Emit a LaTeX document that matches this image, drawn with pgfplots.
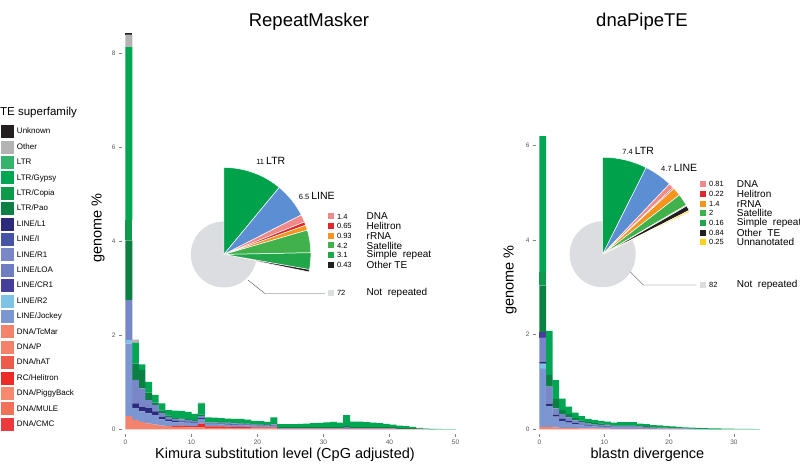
\documentclass[border=0pt]{standalone}
\usepackage{fontspec}
\setmainfont{Liberation Sans}
\usepackage{pgfplots}
\usepackage{pgfplotstable}
\pgfplotsset{compat=1.18}

\definecolor{cUnknown}{HTML}{231F20}
\definecolor{cOther}{HTML}{B3B3B3}
\definecolor{cLTR}{HTML}{35B26B}
\definecolor{cGypsy}{HTML}{00A651}
\definecolor{cCopia}{HTML}{0D9A4A}
\definecolor{cPao}{HTML}{0B8043}
\definecolor{cL1}{HTML}{2B2A7B}
\definecolor{cI}{HTML}{4754A6}
\definecolor{cR1}{HTML}{7986C7}
\definecolor{cLOA}{HTML}{6E7DC2}
\definecolor{cCR1}{HTML}{453F9C}
\definecolor{cR2}{HTML}{7EC2E6}
\definecolor{cJockey}{HTML}{7C96D2}
\definecolor{cTcMar}{HTML}{F4836E}
\definecolor{cP}{HTML}{F4826A}
\definecolor{chAT}{HTML}{EF5B4B}
\definecolor{cHeli}{HTML}{EC2A26}
\definecolor{cPiggy}{HTML}{F7896E}
\definecolor{cMULE}{HTML}{F17258}
\definecolor{cCMC}{HTML}{EB3A3E}
% pie colours
\definecolor{pLTR}{HTML}{00A14B}
\definecolor{pLINE}{HTML}{5B8ED3}
\definecolor{pDNA}{HTML}{F08A8A}
\definecolor{pHeli}{HTML}{E3262B}
\definecolor{prRNA}{HTML}{F7941D}
\definecolor{pSat}{HTML}{40B14B}
\definecolor{pSimple}{HTML}{22A64A}
\definecolor{pOther}{HTML}{231F20}
\definecolor{pUnann}{HTML}{FCD116}
\definecolor{pNR}{HTML}{DCDDE0}

\pgfplotstableread{
x DNA Heli Job R2 L1 R1 CR1 Pao LTRm Gyp Oth Unk
0.5 0.28 0 1.55 0.07 0 0.85 0 1.27 0.43 3.68 0.27 0.03
1.5 0.20 0 0.25 0 0.10 0.50 0 0.35 0 0.44 0.07 0
2.5 0.16 0 0.22 0 0.10 0.39 0 0.39 0 0.12 0 0
3.5 0.12 0 0.22 0 0.11 0.17 0 0.16 0 0.23 0 0
4.5 0.10 0 0.20 0 0.08 0.14 0 0.05 0 0.16 0 0
5.5 0.08 0 0.13 0 0.06 0.08 0 0.05 0 0.15 0 0
6.5 0.07 0 0.10 0 0.04 0.05 0 0.03 0 0.12 0 0
7.5 0.05 0.02 0.08 0 0.03 0.04 0 0.02 0 0.16 0 0
8.5 0.05 0.03 0.07 0 0.02 0.04 0 0.02 0 0.16 0 0
9.5 0.04 0.03 0.07 0 0.02 0.04 0 0.02 0 0.15 0 0
10.5 0.04 0.03 0.06 0 0.02 0.03 0 0.02 0 0.13 0 0
11.5 0.04 0.08 0.10 0 0.02 0.04 0 0.03 0 0.24 0.02 0
12.5 0.03 0.03 0.05 0 0.01 0.02 0 0.01 0 0.105 0 0
13.5 0.03 0.03 0.05 0 0.01 0.02 0 0.01 0 0.10 0 0
14.5 0.03 0.03 0.045 0 0.01 0.02 0 0.01 0 0.095 0 0
15.5 0.03 0.025 0.045 0 0.01 0.02 0 0.01 0 0.087 0 0
16.5 0.025 0.025 0.045 0 0.01 0.02 0 0.01 0 0.085 0 0
17.5 0.025 0.025 0.04 0 0.01 0.02 0 0.01 0 0.09 0 0
18.5 0.025 0.02 0.04 0 0.01 0.015 0 0.01 0 0.085 0 0
19.5 0.02 0.02 0.04 0 0.005 0.015 0 0.01 0 0.07 0 0
20.5 0.02 0.02 0.035 0 0.005 0.015 0 0.01 0 0.07 0 0
21.5 0.02 0.02 0.03 0 0.005 0.01 0 0.01 0 0.061 0 0
22.5 0.02 0.02 0.04 0 0.01 0.015 0 0.01 0 0.14 0 0
23.5 0.005 0.005 0.01 0 0 0.005 0 0.02 0 0.065 0 0
24.5 0.005 0.005 0.01 0 0 0.005 0 0.02 0 0.065 0 0
25.5 0.005 0.005 0.01 0 0 0.005 0 0.02 0 0.065 0 0
26.5 0.005 0.005 0.01 0 0 0.005 0 0.02 0 0.07 0 0
27.5 0.005 0.005 0.01 0 0 0.005 0 0.02 0 0.075 0 0
28.5 0.005 0.005 0.01 0 0 0.005 0 0.02 0 0.085 0 0
29.5 0.005 0.005 0.01 0 0 0.005 0 0.02 0 0.09 0 0
30.5 0.005 0.005 0.01 0 0 0.005 0 0.02 0 0.105 0 0
31.5 0.005 0.005 0.01 0 0 0.005 0 0.02 0 0.115 0 0
32.5 0.005 0.005 0.01 0 0 0.005 0 0.02 0 0.095 0 0
33.5 0.005 0.005 0.02 0 0.005 0.01 0 0.02 0 0.235 0 0
34.5 0.005 0.005 0.01 0 0 0.005 0 0.02 0 0.118 0 0
35.5 0.005 0.005 0.01 0 0 0.005 0 0.02 0 0.118 0 0
36.5 0.005 0.005 0.01 0 0 0.005 0 0.02 0 0.11 0 0
37.5 0.005 0.005 0.01 0 0 0.005 0 0.02 0 0.095 0 0
38.5 0.005 0.005 0.01 0 0 0.005 0 0.02 0 0.085 0 0
39.5 0.005 0.005 0.01 0 0 0.005 0 0.02 0 0.07 0 0
40.5 0.005 0.005 0.01 0 0 0.005 0 0.02 0 0.055 0 0
41.5 0.005 0 0.005 0 0 0 0 0.015 0 0.055 0 0
42.5 0.005 0 0.005 0 0 0 0 0.015 0 0.04 0 0
43.5 0.005 0 0.005 0 0 0 0 0.015 0 0.025 0 0
44.5 0.005 0 0.005 0 0 0 0 0.01 0 0.01 0 0
45.5 0 0 0.005 0 0 0 0 0.005 0 0.005 0 0
46.5 0 0 0 0 0 0 0 0.005 0 0.005 0 0
47.5 0 0 0 0 0 0 0 0 0 0.007 0 0
48.5 0 0 0 0 0 0 0 0 0 0.005 0 0
49.5 0 0 0 0 0 0 0 0 0 0.003 0 0
}\tabRM

\pgfplotstableread{
x DNA Heli Job R2 L1 R1 CR1 Pao LTRm Gyp Oth Unk
0.5 0.05 0 1.23 0.11 0.03 0.52 0.12 0.98 0.28 2.88 0 0
1.5 0.05 0 0.44 0 0.05 0.36 0 0.25 0 0.93 0 0
2.5 0.04 0 0.23 0 0.04 0.13 0 0.20 0 0.40 0 0
3.5 0.03 0 0.15 0 0.04 0.10 0 0.09 0 0.24 0 0
4.5 0.03 0 0.11 0 0.03 0.08 0 0.07 0 0.16 0 0
5.5 0.03 0 0.08 0 0.02 0.06 0 0.05 0 0.11 0 0
6.5 0.02 0 0.06 0 0.02 0.05 0 0.04 0 0.09 0 0
7.5 0.02 0 0.05 0 0.01 0.04 0 0.03 0 0.07 0 0
8.5 0.02 0 0.04 0 0.01 0.03 0 0.03 0 0.07 0 0
9.5 0.015 0 0.04 0 0.01 0.03 0 0.025 0 0.06 0 0
10.5 0.015 0 0.035 0 0.01 0.025 0 0.02 0 0.055 0 0
11.5 0.01 0 0.03 0 0.005 0.02 0 0.02 0 0.055 0 0
12.5 0.01 0 0.03 0 0.005 0.02 0 0.02 0 0.065 0 0
13.5 0.01 0 0.03 0 0.005 0.02 0 0.02 0 0.065 0 0
14.5 0.01 0 0.03 0 0.005 0.02 0 0.02 0 0.065 0 0
15.5 0.01 0 0.025 0 0.005 0.015 0 0.015 0 0.05 0 0
16.5 0.01 0 0.02 0 0.005 0.015 0 0.015 0 0.045 0 0
17.5 0.005 0 0.02 0 0 0.01 0 0.015 0 0.04 0 0
18.5 0.005 0 0.015 0 0 0.01 0 0.01 0 0.04 0 0
19.5 0.005 0 0.015 0 0 0.01 0 0.01 0 0.03 0 0
20.5 0.005 0 0.01 0 0 0.005 0 0.01 0 0.03 0 0
21.5 0.005 0 0.01 0 0 0.005 0 0.01 0 0.02 0 0
22.5 0 0 0.01 0 0 0.005 0 0.005 0 0.02 0 0
23.5 0 0 0.005 0 0 0.005 0 0.005 0 0.02 0 0
24.5 0 0 0.005 0 0 0 0 0.005 0 0.02 0 0
25.5 0 0 0.005 0 0 0 0 0.005 0 0.015 0 0
26.5 0 0 0 0 0 0 0 0.005 0 0.015 0 0
27.5 0 0 0 0 0 0 0 0.005 0 0.012 0 0
28.5 0 0 0 0 0 0 0 0 0 0.014 0 0
29.5 0 0 0 0 0 0 0 0 0 0.012 0 0
30.5 0 0 0 0 0 0 0 0 0 0.010 0 0
31.5 0 0 0 0 0 0 0 0 0 0.008 0 0
32.5 0 0 0 0 0 0 0 0 0 0.006 0 0
33.5 0 0 0 0 0 0 0 0 0 0.004 0 0
}\tabDP

\newcommand\stackbars[1]{%
  \addplot[fill=cTcMar,forget plot] table[x=x,y=DNA]{#1};
  \addplot[fill=cHeli,forget plot] table[x=x,y=Heli]{#1};
  \addplot[fill=cJockey,forget plot] table[x=x,y=Job]{#1};
  \addplot[fill=cR2,forget plot] table[x=x,y=R2]{#1};
  \addplot[fill=cL1,forget plot] table[x=x,y=L1]{#1};
  \addplot[fill=cR1,forget plot] table[x=x,y=R1]{#1};
  \addplot[fill=cCR1,forget plot] table[x=x,y=CR1]{#1};
  \addplot[fill=cPao,forget plot] table[x=x,y=Pao]{#1};
  \addplot[fill=cCopia,forget plot] table[x=x,y=LTRm]{#1};
  \addplot[fill=cGypsy,forget plot] table[x=x,y=Gyp]{#1};
  \addplot[fill=cOther,forget plot] table[x=x,y=Oth]{#1};
  \addplot[fill=cUnknown,forget plot] table[x=x,y=Unk]{#1};
}

\pgfplotsset{
  mybars/.style={
    scale only axis, anchor=south west,
    ybar stacked, bar width=1.06,
    every axis plot/.append style={draw=none},
    axis lines*=left, axis line style={draw=none},
    tick align=outside, major tick length=2.5pt,
    tick style={black!50, line width=0.4pt},
    tick label style={font=\fontsize{6.5}{7}\selectfont, text=black!65},
    /pgf/number format/assume math mode=true,
    ymin=-0.1,
  }
}

% pie drawing: #1 centre, #2 radius, #3 list value/colour
\newcommand\piewedges[3]{%
  \gdef\curang{90}%
  \foreach \v/\c in {#3} {%
    \pgfmathsetmacro\nextang{\curang-3.6*\v}%
    \fill[\c, draw=white, line width=0.5pt] (#1) -- ++(\curang:#2) arc[start angle=\curang, end angle=\nextang, radius=#2] -- cycle;%
    \global\let\curang\nextang
  }%
}
\newcommand\legrow[5]{%
  \fill[#2] (\sqx-3pt,#1-3pt) rectangle ++(6pt,6pt);
  \node[anchor=west, inner sep=0pt, font=\fontsize{7.5}{8}\selectfont] at (\numx,#1) {#3};
  \node[anchor=west, inner sep=0pt, font=\fontsize{10}{11}\selectfont] at (\namex,#1) {#4};
}

\begin{document}
\begin{tikzpicture}[x=1pt,y=1pt]
\useasboundingbox (0,0) rectangle (800,463);

% ---------- RepeatMasker ----------
\begin{axis}[mybars,
  at={(121.5pt,29pt)}, width=340.6pt, height=404.2pt,
  xmin=-0.6, xmax=51, ymax=8.5,
  xtick={0,10,...,50}, ytick={0,2,4,6,8},
  legend cell align=left,
  legend image code/.code={\fill[#1] (0pt,-6.5pt) rectangle (13pt,6.5pt);},
  legend style={at={(axis description cs:-0.35379,0.76398)}, anchor=north west,
    draw=none, fill=none, inner sep=0pt, outer sep=0pt,
    row sep=2.4pt, column sep=3pt,
    font=\fontsize{8}{9}\selectfont, nodes={inner sep=0pt}},
]
\stackbars{\tabRM}
\addlegendimage{fill=cUnknown}\addlegendentry{Unknown}
\addlegendimage{fill=cOther}\addlegendentry{Other}
\addlegendimage{fill=cLTR}\addlegendentry{LTR}
\addlegendimage{fill=cGypsy}\addlegendentry{LTR/Gypsy}
\addlegendimage{fill=cCopia}\addlegendentry{LTR/Copia}
\addlegendimage{fill=cPao}\addlegendentry{LTR/Pao}
\addlegendimage{fill=cL1}\addlegendentry{LINE/L1}
\addlegendimage{fill=cI}\addlegendentry{LINE/I}
\addlegendimage{fill=cR1}\addlegendentry{LINE/R1}
\addlegendimage{fill=cLOA}\addlegendentry{LINE/LOA}
\addlegendimage{fill=cCR1}\addlegendentry{LINE/CR1}
\addlegendimage{fill=cR2}\addlegendentry{LINE/R2}
\addlegendimage{fill=cJockey}\addlegendentry{LINE/Jockey}
\addlegendimage{fill=cTcMar}\addlegendentry{DNA/TcMar}
\addlegendimage{fill=cP}\addlegendentry{DNA/P}
\addlegendimage{fill=chAT}\addlegendentry{DNA/hAT}
\addlegendimage{fill=cHeli}\addlegendentry{RC/Helitron}
\addlegendimage{fill=cPiggy}\addlegendentry{DNA/PiggyBack}
\addlegendimage{fill=cMULE}\addlegendentry{DNA/MULE}
\addlegendimage{fill=cCMC}\addlegendentry{DNA/CMC}
\coordinate (pieL) at (axis cs:14.9,3.72);
\end{axis}

% ---------- dnaPipeTE ----------
\begin{axis}[mybars,
  at={(535.6pt,29pt)}, width=224.2pt, height=302.7pt,
  xmin=-0.6, xmax=34, ymax=6.3,
  xtick={0,10,20,30}, ytick={0,2,4,6},
]
\stackbars{\tabDP}
\coordinate (pieR) at (axis cs:9.75,3.70);
\end{axis}

% titles and labels
\node[font=\fontsize{18.5}{20}\selectfont] at (309,441) {RepeatMasker};
\node[font=\fontsize{18.5}{20}\selectfont] at (642,441) {dnaPipeTE};
\node[anchor=base, font=\fontsize{14.5}{16}\selectfont] at (285,4.5) {Kimura substitution level (CpG adjusted)};
\node[anchor=base, font=\fontsize{14.5}{16}\selectfont] at (647.5,4.5) {blastn divergence};
\node[rotate=90, font=\fontsize{14.5}{16}\selectfont] at (98,235) {genome \%};
\node[rotate=90, font=\fontsize{14.5}{16}\selectfont] at (510,183) {genome \%};
\node[anchor=west, inner sep=0pt, font=\fontsize{11.5}{13}\selectfont] at (0,350.3) {TE superfamily};

% ---------- left pie ----------
\begin{scope}[shift={(pieL)}]
  \fill[pNR] (0,0) circle (33);
  \piewedges{0,0}{87}{11/pLTR, 6.5/pLINE, 1.4/pDNA, 0.65/pHeli, 0.93/prRNA, 4.2/pSat, 3.1/pSimple, 0.43/pOther}
  \draw[black!70, line width=0.4pt] (24.3,-25.7) -- (41,-39) -- (101,-39);
  \node[anchor=base, inner sep=0pt] at (47,90) {\fontsize{7.5}{8}\selectfont 11 \fontsize{10.5}{12}\selectfont LTR};
  \node[anchor=base, inner sep=0pt] at (93,55) {\fontsize{7.5}{8}\selectfont 6.5 \fontsize{10.5}{12}\selectfont LINE};
  \def\sqx{107}\def\numx{113}\def\namex{142.7}
  \legrow{38}{pDNA}{1.4}{DNA}{}
  \legrow{28.3}{pHeli}{0.65}{Helitron}{}
  \legrow{18.6}{prRNA}{0.93}{rRNA}{}
  \legrow{9}{pSat}{4.2}{Satellite}{}
  \legrow{-0.7}{pSimple}{3.1}{Simple\ \ repeat}{}
  \legrow{-10.7}{pOther}{0.43}{Other TE}{}
  \legrow{-38.7}{pNR}{72}{Not\ \ repeated}{}
\end{scope}

% ---------- right pie ----------
\begin{scope}[shift={(pieR)}]
  \fill[pNR] (0,0) circle (33);
  \piewedges{0,0}{97}{7.4/pLTR, 4.7/pLINE, 0.81/pDNA, 0.22/pHeli, 1.4/prRNA, 2/pSat, 0.16/pSimple, 0.84/pOther, 0.25/pUnann}
  \draw[black!70, line width=0.4pt] (27.3,-17.4) -- (40.6,-30.7) -- (94,-30.7);
  \node[anchor=base, inner sep=0pt] at (35.5,100) {\fontsize{7.5}{8}\selectfont 7.4 \fontsize{10.5}{12}\selectfont LTR};
  \node[anchor=base, inner sep=0pt] at (76.5,83) {\fontsize{7.5}{8}\selectfont 4.7 \fontsize{10.5}{12}\selectfont LINE};
  \def\sqx{100}\def\numx{106.3}\def\namex{134}
  \legrow{70}{pDNA}{0.81}{DNA}{}
  \legrow{60.3}{pHeli}{0.22}{Helitron}{}
  \legrow{50.6}{prRNA}{1.4}{rRNA}{}
  \legrow{41}{pSat}{2}{Satellite}{}
  \legrow{31.3}{pSimple}{0.16}{Simple\ \ repeat}{}
  \legrow{21.6}{pOther}{0.84}{Other\ \ TE}{}
  \legrow{12}{pUnann}{0.25}{Unnanotated}{}
  \legrow{-30.7}{pNR}{82}{Not\ \ repeated}{}
\end{scope}
\end{tikzpicture}
\end{document}
